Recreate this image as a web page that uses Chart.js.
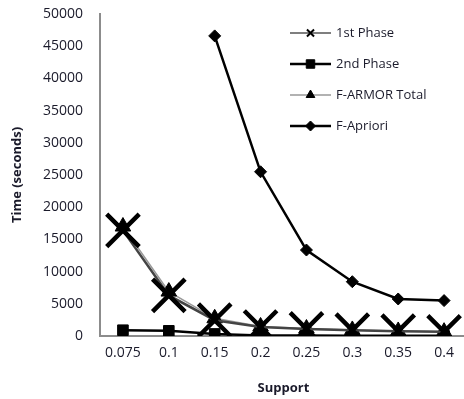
<!DOCTYPE html>
<html>
<head>
<meta charset="utf-8">
<script src="https://cdn.jsdelivr.net/npm/chart.js@4/dist/chart.umd.min.js"></script>
<style>
  html, body { margin: 0; padding: 0; background: #fff; overflow: hidden; }
  #wrap { width: 470px; height: 399px; }
</style>
</head>
<body>
<div id="wrap"><canvas id="timeChart"></canvas></div>
<script>
const supportLabels = ['0.075', '0.1', '0.15', '0.2', '0.25', '0.3', '0.35', '0.4'];
const firstPhase = [16400, 6300, 2450, 1400, 1100, 900, 750, 650];
const secondPhase = [900, 800, 320, 80, 60, 40, 30, 20];
const armorTotal = [17000, 6900, 2750, 1480, 1160, 940, 780, 670];
const apriori = [null, null, 46600, 25500, 13350, 8430, 5750, 5500];
const yTicks = [0, 5000, 10000, 15000, 20000, 25000, 30000, 35000, 40000, 45000, 50000];

const FONT = 'Open Sans';

// legend drawn inside the plot, like the original
const legendItems = [
    { text: '1st Phase', style: 'crossRot', r: 5, bw: 2, line: '#000', lw: 1.2 },
    { text: '2nd Phase', style: 'rect', r: 6, bw: 1, line: '#000', lw: 2.5 },
    { text: 'F-ARMOR Total', style: 'triangle', r: 5, bw: 1, line: '#999', lw: 1.5 },
    { text: 'F-Apriori', style: 'rectRot', r: 5, bw: 1, line: '#000', lw: 2.5 }
];

const insideLegend = {
    id: 'insideLegend',
    afterDraw(chart) {
        const ctx = chart.ctx;
        const x0 = 290, x1 = 331, ys = [33, 64, 95, 126];
        ctx.save();
        legendItems.forEach((item, i) => {
            const y = ys[i];
            ctx.strokeStyle = item.line;
            ctx.lineWidth = item.lw;
            ctx.beginPath();
            ctx.moveTo(x0, y);
            ctx.lineTo(x1, y);
            ctx.stroke();
            ctx.fillStyle = '#000';
            ctx.strokeStyle = '#000';
            ctx.lineWidth = item.bw;
            Chart.helpers.drawPoint(ctx, { pointStyle: item.style, radius: item.r, rotation: 0, borderWidth: item.bw }, (x0 + x1) / 2, y);
            ctx.fillStyle = '#1a1a2a';
            ctx.font = '13px "' + FONT + '"';
            ctx.textBaseline = 'middle';
            ctx.textAlign = 'left';
            ctx.fillText(item.text, x1 + 5, y);
        });
        ctx.restore();
    }
};

const ctx = document.getElementById('timeChart').getContext('2d');

new Chart(ctx, {
    type: 'line',
    data: {
        labels: supportLabels,
        datasets: [
            {
                label: '1st Phase',
                data: firstPhase,
                borderColor: '#444',
                borderWidth: 2.5,
                pointStyle: 'crossRot',
                pointRadius: 23,
                pointBorderWidth: 4.5,
                pointBorderColor: '#000',
                pointBackgroundColor: '#000'
            },
            {
                label: '2nd Phase',
                data: secondPhase,
                borderColor: '#000',
                borderWidth: 2.5,
                pointStyle: 'rect',
                pointRadius: 7.5,
                pointBorderWidth: 1,
                pointBorderColor: '#000',
                pointBackgroundColor: '#000'
            },
            {
                label: 'F-ARMOR Total',
                data: armorTotal,
                borderColor: '#999',
                borderWidth: 1.5,
                pointStyle: 'triangle',
                pointRadius: 9,
                pointBorderWidth: 1,
                pointBorderColor: '#000',
                pointBackgroundColor: '#000'
            },
            {
                label: 'F-Apriori',
                data: apriori,
                borderColor: '#000',
                borderWidth: 2.5,
                pointStyle: 'rectRot',
                pointRadius: 6,
                pointBorderWidth: 1,
                pointBorderColor: '#000',
                pointBackgroundColor: '#000'
            }
        ]
    },
    options: {
        responsive: true,
        maintainAspectRatio: false,
        animation: false,
        layout: { autoPadding: false, padding: { top: 14, right: 3, left: 0, bottom: 0 } },
        plugins: {
            legend: { display: false },
            tooltip: { enabled: false }
        },
        scales: {
            x: {
                offset: true,
                grid: { display: false, drawTicks: false },
                border: { display: true, color: '#8c8c8c', width: 2 },
                ticks: {
                    padding: 9,
                    color: '#1a1a2a',
                    font: { family: FONT, size: 14 },
                    maxRotation: 0
                },
                title: {
                    display: true,
                    text: 'Support',
                    color: '#1a1a2a',
                    font: { family: FONT, size: 13, weight: 'bold' },
                    padding: { top: 0, bottom: 3 }
                },
                afterFit(scale) { scale.height = 63; scale.paddingLeft = 0; scale.paddingRight = 0; }
            },
            y: {
                min: 0,
                max: 50000,
                afterBuildTicks(scale) { scale.ticks = yTicks.map(v => ({ value: v })); },
                grid: { display: false, drawTicks: false },
                border: { display: true, color: '#8c8c8c', width: 2 },
                ticks: {
                    padding: 17,
                    color: '#1a1a2a',
                    font: { family: FONT, size: 14 },
                    callback: v => String(v)
                },
                title: {
                    display: true,
                    text: 'Time (seconds)',
                    color: '#1a1a2a',
                    font: { family: FONT, size: 13, weight: 'bold' },
                    padding: { top: 9, bottom: 0 }
                },
                afterFit(scale) { scale.width = 100; scale.paddingTop = 8; scale.paddingBottom = 0; }
            }
        }
    },
    plugins: [insideLegend]
});
</script>
</body>
</html>
